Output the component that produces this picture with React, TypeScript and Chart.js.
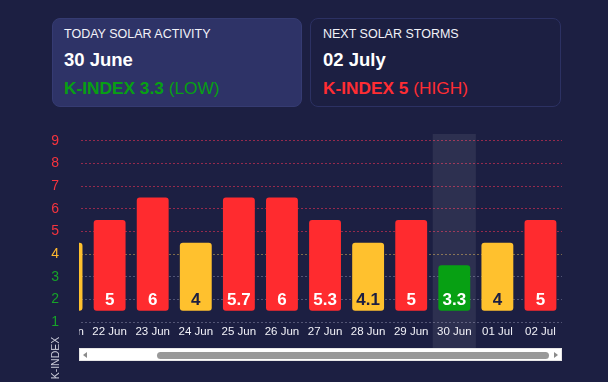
import React, { useEffect, useRef } from 'react';
import { Chart, registerables } from 'chart.js';
Chart.register(...registerables);

const dates = ['21 Jun', '22 Jun', '23 Jun', '24 Jun', '25 Jun', '26 Jun', '27 Jun', '28 Jun', '29 Jun', '30 Jun', '01 Jul', '02 Jul'];
const kIndex = [4, 5, 6, 4, 5.7, 6, 5.3, 4.1, 5, 3.3, 4, 5];
const barTops = [4.5, 5.5, 6.5, 4.5, 6.5, 6.5, 5.5, 4.5, 5.5, 3.5, 4.5, 5.5];
const barBase = 1.5;
const yTicks = [1, 2, 3, 4, 5, 6, 7, 8, 9];
const yMin = 1;
const yMax = 9.3;
const labelLevel = 2;
const todayLabel = '30 Jun';

const RED = '#ff2b2f';
const YELLOW = '#ffc12e';
const GREEN = '#07a013';
const BG = '#1c1f42';
const FONT = "'Liberation Sans', Arial, sans-serif";

const barColor = (v: number) => (v >= 5 ? RED : v >= 4 ? YELLOW : GREEN);
const tickColor = (v: number) => (v >= 5 ? '#f5343e' : v >= 4 ? '#ffb92e' : '#16a328');
const gridColor = (v: number) =>
  v >= 5 ? 'rgba(230,50,85,0.6)' : v >= 4 ? 'rgba(210,170,80,0.55)' : 'rgba(150,150,180,0.45)';

const highlightPlugin = {
  id: 'todayHighlight',
  beforeDatasetsDraw(chart: any) {
    const xs = chart.scales.x;
    const idx = dates.indexOf(todayLabel);
    const cx = xs.getPixelForValue(idx);
    const w = xs.width / dates.length;
    const ctx = chart.ctx;
    ctx.save();
    ctx.fillStyle = 'rgba(255,255,255,0.08)';
    ctx.fillRect(cx - w / 2, chart.chartArea.top, w, chart.height - chart.chartArea.top);
    ctx.restore();
  },
};

const valueLabelPlugin = {
  id: 'valueLabels',
  afterDatasetsDraw(chart: any) {
    const meta = chart.getDatasetMeta(0);
    const ys = chart.scales.y;
    const ctx = chart.ctx;
    ctx.save();
    ctx.font = `bold 17px ${FONT}`;
    ctx.textAlign = 'center';
    ctx.textBaseline = 'middle';
    meta.data.forEach((bar: any, i: number) => {
      const v = kIndex[i];
      ctx.fillStyle = v >= 4 && v < 5 ? BG : '#ffffff';
      ctx.fillText(String(v), bar.x, ys.getPixelForValue(labelLevel) + 1);
    });
    ctx.restore();
  },
};

export default function App() {
  const mainRef = useRef<HTMLCanvasElement>(null);
  const axisRef = useRef<HTMLCanvasElement>(null);

  useEffect(() => {
    const main = new Chart(mainRef.current!, {
      type: 'bar',
      data: {
        labels: dates,
        datasets: [
          {
            data: barTops.map((t) => [barBase, t]) as any,
            backgroundColor: kIndex.map(barColor),
            borderWidth: 0,
            borderRadius: 3,
            borderSkipped: false,
            barPercentage: 0.74,
            categoryPercentage: 1,
          },
        ],
      },
      options: {
        animation: false,
        responsive: false,
        devicePixelRatio: 1,
        layout: { padding: 0 },
        plugins: { legend: { display: false }, tooltip: { enabled: false } },
        scales: {
          x: {
            grid: { display: false, drawTicks: false },
            border: { display: false },
            ticks: {
              color: '#f2f2f8',
              font: { family: FONT, size: 11.5 },
              padding: 3,
              autoSkip: false,
              maxRotation: 0,
            },
            afterFit: (s: any) => {
              s.height = 26;
              s.paddingLeft = 0;
              s.paddingRight = 0;
            },
          },
          y: {
            min: yMin,
            max: yMax,
            afterBuildTicks: (s: any) => {
              s.ticks = yTicks.map((v) => ({ value: v }));
            },
            ticks: { display: false },
            grid: {
              drawTicks: false,
              color: (c: any) => gridColor(c.tick ? c.tick.value : 1),
              lineWidth: 1,
            },
            border: { display: false, dash: [2, 2] },
            afterFit: (s: any) => {
              s.width = 0;
              s.paddingTop = 0;
              s.paddingBottom = 0;
            },
          },
        },
      },
      plugins: [highlightPlugin, valueLabelPlugin],
    });

    const axis = new Chart(axisRef.current!, {
      type: 'bar',
      data: { labels: [], datasets: [] },
      options: {
        animation: false,
        responsive: false,
        devicePixelRatio: 1,
        layout: { padding: { bottom: 26 } },
        plugins: { legend: { display: false }, tooltip: { enabled: false } },
        scales: {
          x: { display: false },
          y: {
            min: yMin,
            max: yMax,
            afterBuildTicks: (s: any) => {
              s.ticks = yTicks.map((v) => ({ value: v }));
            },
            ticks: {
              color: (c: any) => tickColor(c.tick ? c.tick.value : 1),
              font: { family: FONT, size: 14 },
              padding: 20,
            },
            grid: { display: false, drawTicks: false },
            border: { display: false },
            afterFit: (s: any) => {
              s.width = 79;
              s.paddingTop = 0;
              s.paddingBottom = 0;
            },
          },
        },
      },
    });

    return () => {
      main.destroy();
      axis.destroy();
    };
  }, []);

  const abs = (o: React.CSSProperties): React.CSSProperties => ({ position: 'absolute', ...o });

  return (
    <div style={{ position: 'fixed', left: 0, top: 0, width: 608, height: 382, background: BG, overflow: 'hidden', fontFamily: FONT }}>
      <div style={abs({ left: 52, top: 18, width: 250, height: 89, boxSizing: 'border-box', background: '#2e3367', border: '1px solid #353b72', borderRadius: 8 })}>
        <div style={abs({ left: 11, top: 9, fontSize: 12.5, lineHeight: 1, color: '#f2f2f8', whiteSpace: 'nowrap' })}>TODAY SOLAR ACTIVITY</div>
        <div style={abs({ left: 11, top: 32, fontSize: 18.5, lineHeight: 1, fontWeight: 'bold', color: '#ffffff', whiteSpace: 'nowrap' })}>30 June</div>
        <div style={abs({ left: 11, top: 61, fontSize: 17.3, lineHeight: 1, color: GREEN, whiteSpace: 'nowrap' })}>
          <b>K-INDEX 3.3</b> (LOW)
        </div>
      </div>
      <div style={abs({ left: 310, top: 18, width: 251, height: 89, boxSizing: 'border-box', background: BG, border: '1px solid #2c3163', borderRadius: 8 })}>
        <div style={abs({ left: 12, top: 9, fontSize: 12.5, lineHeight: 1, color: '#f2f2f8', whiteSpace: 'nowrap' })}>NEXT SOLAR STORMS</div>
        <div style={abs({ left: 12, top: 32, fontSize: 18.5, lineHeight: 1, fontWeight: 'bold', color: '#ffffff', whiteSpace: 'nowrap' })}>02 July</div>
        <div style={abs({ left: 12, top: 61, fontSize: 17.3, lineHeight: 1, color: '#ff2d33', whiteSpace: 'nowrap' })}>
          <b>K-INDEX 5</b> (HIGH)
        </div>
      </div>

      <canvas ref={axisRef} width={80} height={214} style={abs({ left: 0, top: 134 })} />
      <div style={abs({ left: 79, top: 134, width: 483, height: 214, overflow: 'hidden' })}>
        <canvas ref={mainRef} width={517} height={214} style={abs({ left: -34, top: 0 })} />
      </div>

      <div style={abs({ left: 79, top: 348, width: 483, height: 13, background: '#ffffff', boxSizing: 'border-box', border: '1px solid #e6e6e6' })}>
        <div style={abs({ left: 3, top: 2.5, width: 0, height: 0, borderTop: '3.5px solid transparent', borderBottom: '3.5px solid transparent', borderRight: '4px solid #8a8a8a' })} />
        <div style={abs({ left: 77, top: 2.5, width: 392, height: 7, borderRadius: 3.5, background: '#999999' })} />
        <div style={abs({ right: 3, top: 2.5, width: 0, height: 0, borderTop: '3.5px solid transparent', borderBottom: '3.5px solid transparent', borderLeft: '4px solid #8a8a8a' })} />
      </div>

      <div style={abs({ left: 33, top: 352, width: 44, height: 12, transform: 'rotate(-90deg)', transformOrigin: '50% 50%', fontSize: 10.5, lineHeight: '12px', color: '#c9cad8', textAlign: 'center', whiteSpace: 'nowrap' })}>K-INDEX</div>
    </div>
  );
}
